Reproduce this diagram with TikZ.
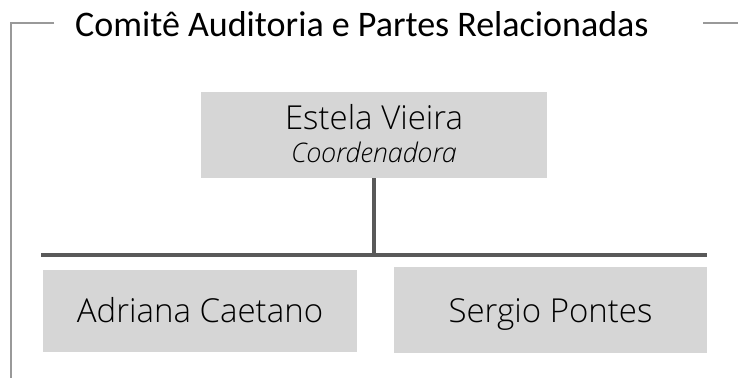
\documentclass[tikz,border=0pt]{standalone}
\usepackage{fontspec}
\setmainfont{Carlito}
\newfontfamily\namefont{Open Sans}[UprightFont={* Light}, ItalicFont={* Light Italic}]
\definecolor{framegray}{HTML}{999999}
\definecolor{conngray}{HTML}{595959}
\definecolor{boxgray}{HTML}{D6D6D6}
\begin{document}
\begin{tikzpicture}[x=1pt,y=-1pt,
  framel/.style={draw=framegray, line width=2pt},
  conn/.style={draw=conngray, line width=3.5pt},
  box/.style={fill=boxgray, draw=none, inner sep=0pt, anchor=north west},
  nametext/.style={font=\namefont\fontsize{33}{40}\selectfont, text=black, inner sep=0pt, anchor=base},
  roletext/.style={font=\namefont\itshape\fontsize{27}{32}\selectfont, text=black, inner sep=0pt, anchor=base}]
\useasboundingbox (0,0) rectangle (738,378);
\fill[white] (0,0) rectangle (738,378);
% title and frame
\node[anchor=base west, inner sep=0pt, font=\fontsize{36}{43}\selectfont] (title) at (75,36) {Comitê Auditoria e Partes Relacionadas};
\coordinate (fa) at (54,22.5);
\coordinate (fb) at (11,22.5);
\coordinate (fc) at (11,378);
\coordinate (fd) at (703,22.5);
\coordinate (fe) at (738,22.5);
\draw[framel] (fa) -- (fb) -- (fc);
\draw[framel] (fd) -- (fe);
% boxes
\node[box, minimum width=346pt, minimum height=86pt] (top) at (201,92) {};
\node[box, minimum width=314pt, minimum height=82pt] (left) at (43,270) {};
\node[box, minimum width=313pt, minimum height=86pt] (right) at (394,267) {};
% texts
\node[nametext] (estela) at (374,129) {Estela Vieira};
\node[roletext] (coord) at (374,162) {Coordenadora};
\node[nametext] (adriana) at (200,322) {Adriana Caetano};
\node[nametext] (sergio) at (550.5,322) {Sergio Pontes};
% connectors
\coordinate (hl) at (41,255);
\coordinate (hr) at (707,255);
\draw[conn, line width=4pt] (hl) -- (hr);
\draw[conn] (top.south) -- (top.south |- hl);
\end{tikzpicture}
\end{document}
